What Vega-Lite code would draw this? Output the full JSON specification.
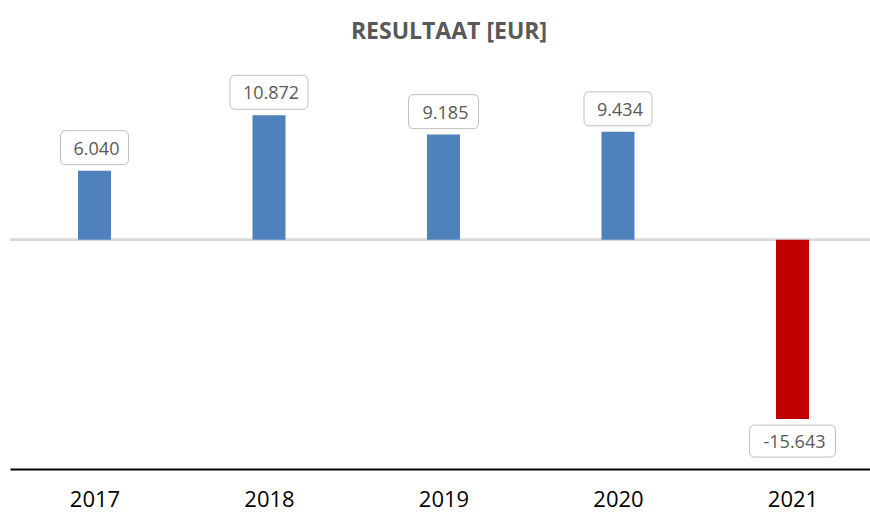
{
  "$schema": "https://vega.github.io/schema/vega-lite/v6.json",
  "width": 860,
  "height": 401,
  "autosize": {"type": "none"},
  "padding": {"left": 10, "top": 68, "right": 0, "bottom": 44},
  "background": "white",
  "title": {
    "text": "RESULTAAT [EUR]",
    "font": "Open Sans",
    "fontSize": 23,
    "fontWeight": "bold",
    "color": "#595959",
    "anchor": "middle",
    "offset": 24,
    "dx": 9
  },
  "data": {
    "values": [
      {"year": 2017, "value": 6040, "label": "6.040"},
      {"year": 2018, "value": 10872, "label": "10.872"},
      {"year": 2019, "value": 9185, "label": "9.185"},
      {"year": 2020, "value": 9434, "label": "9.434"},
      {"year": 2021, "value": -15643, "label": "-15.643"}
    ]
  },
  "encoding": {
    "x": {
      "field": "year",
      "type": "quantitative",
      "scale": {"domain": [2016.5158, 2021.4442], "nice": false, "zero": false, "padding": 0},
      "axis": {
        "values": [2017, 2018, 2019, 2020, 2021],
        "format": "d",
        "title": null,
        "grid": false,
        "ticks": false,
        "tickSize": 0,
        "labelFont": "Open Sans",
        "labelFontSize": 22,
        "labelColor": "#000000",
        "labelPadding": 20,
        "labelFlush": false,
        "labelOverlap": false,
        "domainColor": "#000000",
        "domainWidth": 2
      }
    },
    "y": {
      "field": "value",
      "type": "quantitative",
      "scale": {"domain": [-20000, 15000], "nice": false, "zero": false, "padding": 0},
      "axis": null
    }
  },
  "layer": [
    {
      "mark": {"type": "rule", "color": "#d9d9d9", "strokeWidth": 2},
      "encoding": {"x": {"value": 0}, "x2": {"value": 860}, "y": {"datum": 0}}
    },
    {
      "mark": {"type": "bar", "size": 33},
      "encoding": {
        "y2": {"datum": 0},
        "color": {
          "condition": {"test": "datum.value < 0", "value": "#c00000"},
          "value": "#4f81bd"
        }
      }
    },
    {
      "transform": [{"filter": "datum.value >= 0"}],
      "layer": [
        {
          "mark": {"type": "point", "filled": true, "fill": "white", "stroke": "#bfbfbf", "strokeWidth": 1, "opacity": 1, "size": 10000, "yOffset": -23},
          "encoding": {
            "shape": {
              "field": "year",
              "type": "nominal",
              "legend": null,
              "scale": {
                "domain": [2017, 2018, 2019, 2020, 2021],
                "range": [
                  "M -0.57,-0.34 L 0.57,-0.34 Q 0.68,-0.34 0.68,-0.23 L 0.68,0.23 Q 0.68,0.34 0.57,0.34 L -0.57,0.34 Q -0.68,0.34 -0.68,0.23 L -0.68,-0.23 Q -0.68,-0.34 -0.57,-0.34 Z",
                  "M -0.67,-0.34 L 0.67,-0.34 Q 0.78,-0.34 0.78,-0.23 L 0.78,0.23 Q 0.78,0.34 0.67,0.34 L -0.67,0.34 Q -0.78,0.34 -0.78,0.23 L -0.78,-0.23 Q -0.78,-0.34 -0.67,-0.34 Z",
                  "M -0.59,-0.34 L 0.59,-0.34 Q 0.70,-0.34 0.70,-0.23 L 0.70,0.23 Q 0.70,0.34 0.59,0.34 L -0.59,0.34 Q -0.70,0.34 -0.70,0.23 L -0.70,-0.23 Q -0.70,-0.34 -0.59,-0.34 Z",
                  "M -0.57,-0.34 L 0.57,-0.34 Q 0.68,-0.34 0.68,-0.23 L 0.68,0.23 Q 0.68,0.34 0.57,0.34 L -0.57,0.34 Q -0.68,0.34 -0.68,0.23 L -0.68,-0.23 Q -0.68,-0.34 -0.57,-0.34 Z",
                  "M -0.75,-0.32 L 0.75,-0.32 Q 0.86,-0.32 0.86,-0.21 L 0.86,0.21 Q 0.86,0.32 0.75,0.32 L -0.75,0.32 Q -0.86,0.32 -0.86,0.21 L -0.86,-0.21 Q -0.86,-0.32 -0.75,-0.32 Z"
                ]
              }
            }
          }
        },
        {
          "mark": {"type": "text", "font": "Open Sans", "fontSize": 18, "color": "#595959", "baseline": "middle", "align": "center", "yOffset": -23, "dy": 2, "dx": 2},
          "encoding": {"text": {"field": "label"}}
        }
      ]
    },
    {
      "transform": [{"filter": "datum.value < 0"}],
      "layer": [
        {
          "mark": {"type": "point", "filled": true, "fill": "white", "stroke": "#bfbfbf", "strokeWidth": 1, "opacity": 1, "size": 10000, "yOffset": 22},
          "encoding": {
            "shape": {
              "field": "year",
              "type": "nominal",
              "legend": null,
              "scale": {
                "domain": [2017, 2018, 2019, 2020, 2021],
                "range": [
                  "M -0.57,-0.34 L 0.57,-0.34 Q 0.68,-0.34 0.68,-0.23 L 0.68,0.23 Q 0.68,0.34 0.57,0.34 L -0.57,0.34 Q -0.68,0.34 -0.68,0.23 L -0.68,-0.23 Q -0.68,-0.34 -0.57,-0.34 Z",
                  "M -0.67,-0.34 L 0.67,-0.34 Q 0.78,-0.34 0.78,-0.23 L 0.78,0.23 Q 0.78,0.34 0.67,0.34 L -0.67,0.34 Q -0.78,0.34 -0.78,0.23 L -0.78,-0.23 Q -0.78,-0.34 -0.67,-0.34 Z",
                  "M -0.59,-0.34 L 0.59,-0.34 Q 0.70,-0.34 0.70,-0.23 L 0.70,0.23 Q 0.70,0.34 0.59,0.34 L -0.59,0.34 Q -0.70,0.34 -0.70,0.23 L -0.70,-0.23 Q -0.70,-0.34 -0.59,-0.34 Z",
                  "M -0.57,-0.34 L 0.57,-0.34 Q 0.68,-0.34 0.68,-0.23 L 0.68,0.23 Q 0.68,0.34 0.57,0.34 L -0.57,0.34 Q -0.68,0.34 -0.68,0.23 L -0.68,-0.23 Q -0.68,-0.34 -0.57,-0.34 Z",
                  "M -0.75,-0.32 L 0.75,-0.32 Q 0.86,-0.32 0.86,-0.21 L 0.86,0.21 Q 0.86,0.32 0.75,0.32 L -0.75,0.32 Q -0.86,0.32 -0.86,0.21 L -0.86,-0.21 Q -0.86,-0.32 -0.75,-0.32 Z"
                ]
              }
            }
          }
        },
        {
          "mark": {"type": "text", "font": "Open Sans", "fontSize": 18, "color": "#595959", "baseline": "middle", "align": "center", "yOffset": 22, "dy": 2, "dx": 2},
          "encoding": {"text": {"field": "label"}}
        }
      ]
    }
  ],
  "config": {"view": {"stroke": null}}
}
